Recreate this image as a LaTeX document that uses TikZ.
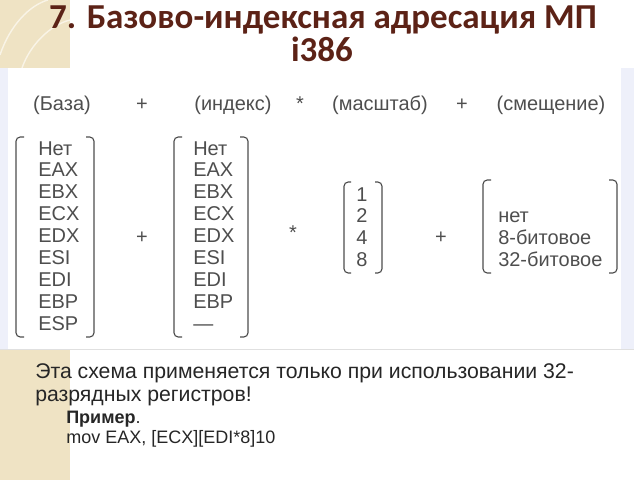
\documentclass[tikz,border=0pt]{standalone}
\usepackage{fontspec}
\setmainfont{Liberation Sans}
\newfontfamily\titlefont{Carlito}
\usetikzlibrary{positioning}
\definecolor{titlebrown}{HTML}{5C2216}
\definecolor{beige}{HTML}{EFE3C4}
\definecolor{panelblue}{HTML}{EEF0FA}
\definecolor{txtgray}{HTML}{4E4E4E}
\tikzset{
  brak/.style={draw=txtgray,line width=0.8pt,rounded corners=3pt},
  regs/.style={text=txtgray,font=\fontsize{14.2}{15.6}\selectfont,align=left,inner sep=0pt},
  hdr/.style={text=txtgray,font=\fontsize{14.2}{15.6}\selectfont,inner sep=0pt,anchor=base},
  op/.style={text=txtgray,font=\fontsize{14.2}{15.6}\selectfont,inner sep=0pt},
  titletxt/.style={text=titlebrown,font=\titlefont\bfseries\fontsize{24.9}{28}\selectfont,inner sep=0pt,anchor=base},
  note/.style={text=black!85,font=\fontsize{15.1}{17}\selectfont,inner sep=0pt,anchor=base west},
  ex/.style={text=black!85,font=\fontsize{12.8}{14}\selectfont,inner sep=0pt,anchor=base west}
}
\begin{document}
\begin{tikzpicture}[x=0.025cm,y=-0.025cm]
  \useasboundingbox (0,0) rectangle (640,480);
  \fill[white] (0,0) rectangle (640,480);
  \fill[beige] (0,0) rectangle (70,68); %top strip
  \fill[beige] (0,348) rectangle (70,480); %bottom strip
  \draw[white!60!beige,line width=1pt] (0,55) .. controls (10,25) and (30,5) .. (48,0); %leaf
  \draw[white!60!beige,line width=1pt] (22,68) .. controls (30,45) and (50,25) .. (70,20);
  \fill[white] (0,68) rectangle (634,349); %panel
  \fill[panelblue] (0,68) rectangle (8,349);
  \fill[panelblue] (621,68) rectangle (634,349);
  \draw[black!12] (0,349) -- (634,349);
  %title
  \node[titletxt] (title) at (323,28) {7. Базово-индексная адресация МП};
  \node[titletxt] (proc) at (322,62) {i386};
  %header row
  \node[hdr] (hbase) at (62,110) {(База)};
  \node[hdr] (hplusA) at (142,110) {+};
  \node[hdr] (hindex) at (233,110) {(индекс)};
  \node[hdr] (hstar) at (300,110) {*};
  \node[hdr] (hscale) at (380,110) {(масштаб)};
  \node[hdr] (hplusB) at (462,110) {+};
  \node[hdr] (hdisp) at (551,110) {(смещение)};
  %columns
  \node[regs,anchor=north west] (basecol) at (38,141) {Нет\\EAX\\EBX\\ECX\\EDX\\ESI\\EDI\\EBP\\ESP};
  \node[regs,anchor=north west] (idxcol) at (193,141) {Нет\\EAX\\EBX\\ECX\\EDX\\ESI\\EDI\\EBP\\—};
  \node[regs,align=center,anchor=north] (sclcol) at (362,187) {1\\2\\4\\8};
  \node[regs,anchor=north west] (dispcol) at (498,211.5) {нет\\8-битовое\\32-битовое};
  \draw[brak] (24,137) -- (16,137) -- (16,337) -- (24,337); %base brackets
  \draw[brak] (86,137) -- (94,137) -- (94,337) -- (86,337);
  \draw[brak] (182,137) -- (174,137) -- (174,337) -- (182,337); %index brackets
  \draw[brak] (240,137) -- (248,137) -- (248,337) -- (240,337);
  \draw[brak] (351,182) -- (344,182) -- (344,273) -- (351,273); %scale brackets
  \draw[brak] (375,182) -- (382,182) -- (382,273) -- (375,273);
  \draw[brak] (491,180) -- (483,180) -- (483,273) -- (491,273); %disp brackets
  \draw[brak] (609,180) -- (617,180) -- (617,273) -- (609,273);
  \node[op] (plusA) at (142,238) {+};
  \node[op] (starA) at (293,233) {*};
  \node[op] (plusB) at (441,238) {+};
  %remark
  \node[note] (rule1) at (35,378) {Эта схема применяется только при использовании 32-};
  \node[note] (rule2) at (35,401) {разрядных регистров!};
  \node[ex] (exhead) at (66,423) {\textbf{Пример}.};
  \node[ex] (excode) at (66,443) {mov EAX, [ECX][EDI*8]10};
\end{tikzpicture}
\end{document}
